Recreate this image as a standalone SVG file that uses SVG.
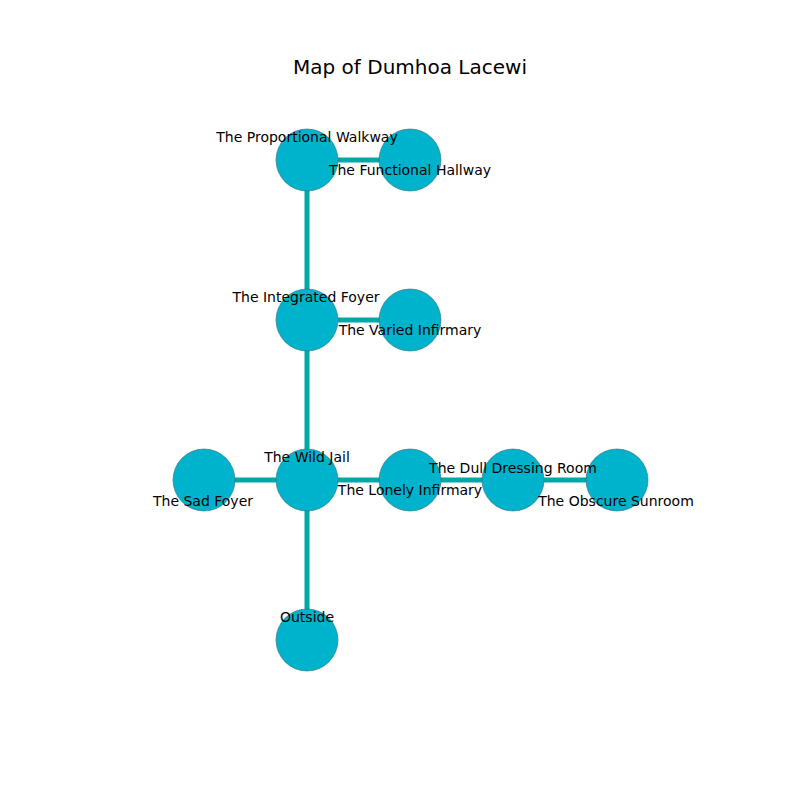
<svg xmlns="http://www.w3.org/2000/svg" width="800" height="800" viewBox="0 0 800 800">
<style>
.e{stroke:#00a8a8;stroke-width:5;fill:none}
.n{fill:#00b3cc;stroke:#3d6b78;stroke-width:0.6}
text{font-family:"DejaVu Sans",sans-serif;font-size:14px;fill:#000;text-anchor:middle}
.t{font-size:20px}
</style>
<rect width="800" height="800" fill="#fff"/>
<text class="t" x="410" y="74">Map of Dumhoa Lacewi</text>
<g id="edges">
<line class="e" x1="307" y1="160" x2="307" y2="640"/>
<line class="e" x1="307" y1="160" x2="410" y2="160"/>
<line class="e" x1="307" y1="320" x2="410" y2="320"/>
<line class="e" x1="204" y1="480" x2="617" y2="480"/>
</g>
<g id="proportional-walkway"><circle class="n" cx="307" cy="160" r="31"/></g>
<g id="functional-hallway"><circle class="n" cx="410" cy="160" r="31"/></g>
<g id="integrated-foyer"><circle class="n" cx="307" cy="320" r="31"/></g>
<g id="varied-infirmary"><circle class="n" cx="410" cy="320" r="31"/></g>
<g id="sad-foyer"><circle class="n" cx="204" cy="480" r="31"/></g>
<g id="wild-jail"><circle class="n" cx="307" cy="480" r="31"/></g>
<g id="lonely-infirmary"><circle class="n" cx="410" cy="480" r="31"/></g>
<g id="dull-dressing-room"><circle class="n" cx="513" cy="480" r="31"/></g>
<g id="obscure-sunroom"><circle class="n" cx="617" cy="480" r="31"/></g>
<g id="outside"><circle class="n" cx="307" cy="640" r="31"/></g>
<g id="labels">
<text x="307" y="142">The Proportional Walkway</text>
<text x="410" y="175">The Functional Hallway</text>
<text x="306" y="302">The Integrated Foyer</text>
<text x="410" y="335">The Varied Infirmary</text>
<text x="307" y="462">The Wild Jail</text>
<text x="203" y="506">The Sad Foyer</text>
<text x="410" y="495">The Lonely Infirmary</text>
<text x="513" y="473">The Dull Dressing Room</text>
<text x="616" y="506">The Obscure Sunroom</text>
<text x="307" y="622">Outside</text>
</g>
</svg>
